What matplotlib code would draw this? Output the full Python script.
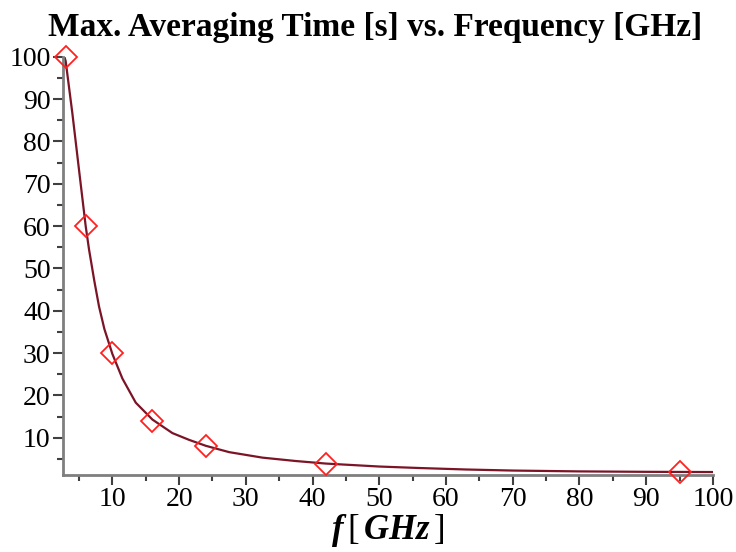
import matplotlib
matplotlib.use("Agg")
from matplotlib import pyplot as plt

plt.rcParams['font.family'] = ['Liberation Serif', 'DejaVu Serif']
plt.rcParams['mathtext.fontset'] = 'custom'
plt.rcParams['mathtext.rm'] = 'Liberation Serif'
plt.rcParams['mathtext.it'] = 'Liberation Serif:italic:bold'

# measured points
freq = [3, 6, 10, 16, 24, 42, 95]
avg_time = [100, 60, 30, 14, 8, 3.8, 1.9]

# fitted curve
curve_f = [2.6, 3, 4, 5, 6, 6.5, 7.3, 8, 8.8, 10, 11.5, 13.5, 16, 19, 21.5, 24,
           27.5, 32.5, 37.5, 42, 50, 56, 63, 70, 80, 90, 100]
curve_t = [101, 99, 86.7, 73.3, 60, 54.5, 47, 41, 35.7, 29.8, 24, 18.3, 14.3, 11.1,
           9.5, 8.1, 6.6, 5.3, 4.5, 3.9, 3.2, 2.85, 2.5, 2.25, 2.05, 1.95, 1.9]

fig = plt.figure(figsize=(7.36, 5.52), dpi=100)
ax = fig.add_axes([0.0856, 0.1395, 0.883, 0.7575])

ax.plot(curve_f, curve_t, color='#7b1426', lw=1.6, zorder=2)
ax.plot(freq, avg_time, 'D', color='#ff2020', mfc='none', ms=11.5, mew=1.3, zorder=3,
        clip_on=False)

ax.set_xlim(2.6, 100)
ax.set_ylim(1.2, 100)
ax.set_xticks(range(10, 101, 10))
ax.set_xticks(range(5, 101, 10), minor=True)
ax.set_yticks(range(10, 101, 10))
ax.set_yticks(range(5, 100, 10), minor=True)

for s in ['top', 'right']:
    ax.spines[s].set_visible(False)
for s in ['left', 'bottom']:
    ax.spines[s].set_color('#7f7f7f')
    ax.spines[s].set_linewidth(2)

ax.tick_params(which='major', length=7, width=1.5, color='#404040', labelsize=20, pad=2)
ax.tick_params(which='minor', length=4, width=1.5, color='#404040')

ax.set_title('Max. Averaging Time [s] vs. Frequency [GHz]', fontsize=24,
             fontweight='bold', pad=15, x=0.48)
ax.set_xlabel(r'$f\,[\,GHz\,]$', fontsize=25, labelpad=0)

fig.savefig('out.png', dpi=100)
